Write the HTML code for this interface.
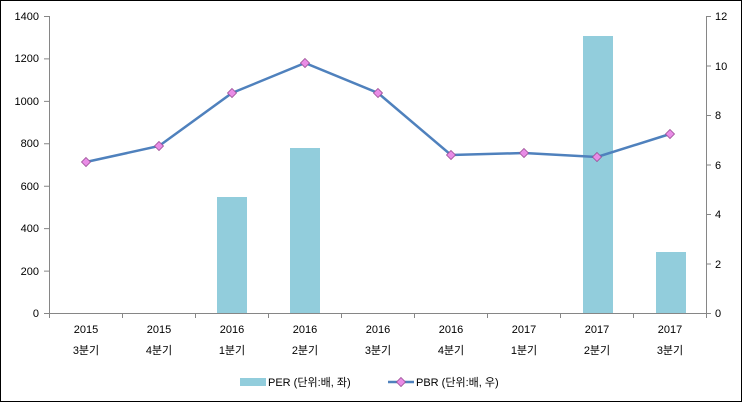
<!DOCTYPE html>
<html><head><meta charset="utf-8"><style>body{margin:0;background:#fff}svg{display:block}text{font-family:"Liberation Sans","Noto Sans CJK KR",sans-serif;font-size:11px;fill:#000}</style></head><body>
<svg width="743" height="403" xmlns="http://www.w3.org/2000/svg">
<rect x="0.5" y="0.5" width="741" height="401" fill="#fff" stroke="#000"/>
<g fill="#92CDDC">
<rect x="217" y="197" width="30" height="116"/>
<rect x="290" y="148" width="30" height="165"/>
<rect x="583" y="36" width="30" height="277"/>
<rect x="656" y="252" width="30" height="61"/>
</g>
<g stroke="#868686" stroke-width="1" fill="none">
<path d="M49.5 16V313.5H706.5V16"/>
<path d="M44 16.5H49M44 58.9H49M44 101.4H49M44 143.8H49M44 186.2H49M44 228.6H49M44 271.1H49M44 313.5H49"/>
<path d="M706 16.5H711M706 66H711M706 115.5H711M706 165H711M706 214.5H711M706 264H711M706 313.5H711"/>
<path d="M49.5 313V318M122.5 313V318M195.5 313V318M268.5 313V318M341.5 313V318M414.5 313V318M487.5 313V318M560.5 313V318M633.5 313V318M706.5 313V318"/>
</g>
<g text-anchor="end">
<text x="39" y="20">1400</text><text x="39" y="62">1200</text><text x="39" y="105">1000</text><text x="39" y="147">800</text><text x="39" y="190">600</text><text x="39" y="232">400</text><text x="39" y="275">200</text><text x="39" y="317">0</text>
</g>
<g>
<text x="715" y="20">12</text><text x="715" y="70">10</text><text x="715" y="119">8</text><text x="715" y="169">6</text><text x="715" y="218">4</text><text x="715" y="268">2</text><text x="715" y="317">0</text>
</g>
<g text-anchor="middle">
<text x="86" y="333">2015</text><text x="86" y="354">3분기</text>
<text x="159" y="333">2015</text><text x="159" y="354">4분기</text>
<text x="232" y="333">2016</text><text x="232" y="354">1분기</text>
<text x="305" y="333">2016</text><text x="305" y="354">2분기</text>
<text x="378" y="333">2016</text><text x="378" y="354">3분기</text>
<text x="451" y="333">2016</text><text x="451" y="354">4분기</text>
<text x="524" y="333">2017</text><text x="524" y="354">1분기</text>
<text x="597" y="333">2017</text><text x="597" y="354">2분기</text>
<text x="670" y="333">2017</text><text x="670" y="354">3분기</text>
</g>
<polyline points="86,162 159,146 232,93 305,63 378,93 451,155 524,153 597,157 670,134" fill="none" stroke="#4F81BD" stroke-width="2.5"/>
<g fill="#E98CE6" stroke="#9B4F96" stroke-width="0.8">
<path d="M86 157.5L90.5 162L86 166.5L81.5 162Z"/>
<path d="M159 141.5L163.5 146L159 150.5L154.5 146Z"/>
<path d="M232 88.5L236.5 93L232 97.5L227.5 93Z"/>
<path d="M305 58.5L309.5 63L305 67.5L300.5 63Z"/>
<path d="M378 88.5L382.5 93L378 97.5L373.5 93Z"/>
<path d="M451 150.5L455.5 155L451 159.5L446.5 155Z"/>
<path d="M524 148.5L528.5 153L524 157.5L519.5 153Z"/>
<path d="M597 152.5L601.5 157L597 161.5L592.5 157Z"/>
<path d="M670 129.5L674.5 134L670 138.5L665.5 134Z"/>
</g>
<rect x="240" y="378" width="26" height="8" fill="#92CDDC"/>
<text x="268" y="386">PER (단위:배, 좌)</text>
<line x1="388" y1="382" x2="414" y2="382" stroke="#4F81BD" stroke-width="2.5"/>
<path d="M401 377.5L405.5 382L401 386.5L396.5 382Z" fill="#E98CE6" stroke="#9B4F96" stroke-width="0.8"/>
<text x="416" y="386">PBR (단위:배, 우)</text>
</svg>
</body></html>
